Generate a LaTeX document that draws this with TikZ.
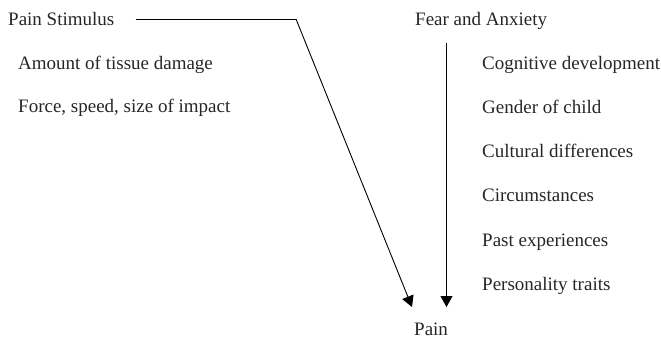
\documentclass[tikz,border=0pt]{standalone}
\usepackage{fontspec}
\setmainfont{Liberation Serif}
\usetikzlibrary{positioning,arrows.meta}

\begin{document}
\begin{tikzpicture}[
    x=1pt, y=-1pt,
    font=\fontsize{19}{22}\selectfont,
    >={Triangle[length=11pt,width=12pt]},
    itemtext/.style={
        anchor=base west,
        inner sep=0pt,
        text=black!85
    },
    arrow/.style={
        ->,
        line width=0.9pt,
        draw=black
    },
    plainline/.style={
        line width=0.9pt,
        draw=black
    }
]

% Frame
\useasboundingbox (0,0) rectangle (661,339);

% Pain stimulus side
\node[itemtext] (stim) at (8,26) {Pain Stimulus};
\node[itemtext] (tissue) at (18,70) {Amount of tissue damage};
\node[itemtext] (force) at (18,113) {Force, speed, size of impact};

% Fear and anxiety side
\node[itemtext] (fear) at (415,26) {Fear and Anxiety};
\foreach \i/\txt in {1/Cognitive development, 2/Gender of child,
    3/Cultural differences, 4/Circumstances, 5/Past experiences,
    6/Personality traits} {
    \node[itemtext] (factor\i) at (482,{26+\i*44}) {\txt};
}

% Outcome
\node[itemtext] (pain) at (414,335) {Pain};

% Connector points
\coordinate (stimstart) at ([xshift=21pt]stim.east |- 0,19);
\coordinate (bend) at (296,19);
\coordinate (tipleft) at (412,307);
\coordinate (fearstart) at (446.5,43);
\coordinate (tipright) at (446.5,307);

% Arrows
\draw[plainline] (stimstart) -- (bend);
\draw[arrow] (bend) -- (tipleft);
\draw[arrow] (fearstart) -- (tipright);

\end{tikzpicture}
\end{document}
